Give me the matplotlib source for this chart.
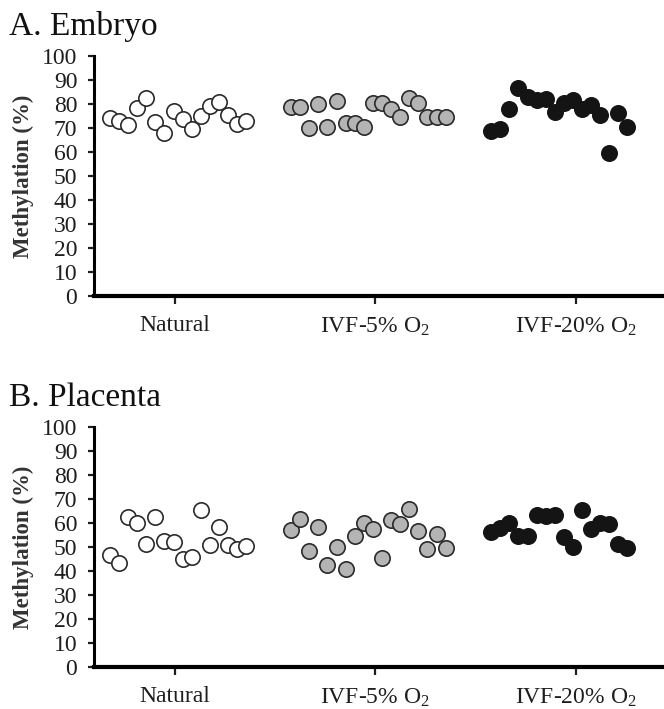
import matplotlib
matplotlib.use('Agg')
import matplotlib.pyplot as plt
import numpy as np

plt.rcParams['font.family'] = ['Liberation Serif', 'DejaVu Serif']
plt.rcParams['mathtext.default'] = 'regular'

# group labels
groups = ['Natural', 'IVF-5% O$_2$', 'IVF-20% O$_2$']

# A. Embryo, % methylation per sample
embryo_natural = [74.3, 72.9, 71.3, 78.2, 82.6, 72.4, 68.0, 77.2, 73.8, 69.6, 75.0, 79.2, 81.0, 75.4, 71.7, 72.9]
embryo_ivf5 = [78.6, 78.6, 69.9, 80.0, 70.5, 81.4, 72.2, 72.2, 70.3, 80.5, 80.3, 77.8, 74.5, 82.6, 80.3, 74.5, 74.7, 74.5]
embryo_ivf20 = [68.9, 69.5, 77.8, 86.5, 83.0, 81.7, 82.0, 76.8, 80.3, 81.7, 77.8, 79.6, 75.4, 59.5, 76.1, 70.3]

# B. Placenta
placenta_natural = [46.7, 43.2, 62.4, 59.9, 51.1, 62.4, 52.5, 52.2, 44.9, 46.0, 65.4, 50.8, 58.5, 50.8, 49.0, 50.4]
placenta_ivf5 = [57.1, 61.5, 48.5, 58.5, 42.5, 50.1, 40.7, 54.6, 59.9, 57.5, 45.3, 61.3, 59.6, 65.7, 56.8, 49.0, 55.3, 49.4]
placenta_ivf20 = [56.4, 57.8, 60.1, 54.6, 54.6, 63.3, 62.9, 63.3, 54.0, 50.1, 65.4, 57.4, 60.1, 59.6, 51.1, 49.7]

yticks = list(range(0, 101, 10))

# dot styles per group: face, edge
faces = ['white', '#b4b4b4', '#141414']
edges = ['#2a2a2a', '#2a2a2a', '#141414']
centre_shift = [0.017, -0.034, -0.082]  # dot clouds sit a bit off the ticks
step = 0.0453


def draw_panel(ax, series, title, title_y):
    for k, vals in enumerate(series):
        n = len(vals)
        xs = (k + 1) + centre_shift[k] + (np.arange(n) - (n - 1) / 2) * step
        ax.scatter(xs, vals, s=122, facecolor=faces[k], edgecolor=edges[k],
                   linewidth=1.2, zorder=3, clip_on=False)
    ax.set_xlim(0.598, 3.44)
    ax.set_ylim(0, 100)
    ax.set_yticks(yticks)
    ax.set_xticks([1, 2, 3])
    ax.set_xticklabels(groups)
    for s in ['top', 'right']:
        ax.spines[s].set_visible(False)
    ax.spines['left'].set_linewidth(2.2)
    ax.spines['bottom'].set_linewidth(3.0)
    ax.tick_params(axis='y', length=4, width=1.6, pad=8, labelsize=17, colors='#1e1e1e')
    ax.tick_params(axis='x', length=6, width=1.6, pad=8, labelsize=17, colors='#1e1e1e')
    ax.set_ylabel('Methylation (%)', fontsize=16.5, fontweight='bold', color='#333333')
    ax.yaxis.set_label_coords(-0.105, 0.5)
    fig.text(0.0136, title_y, title, fontsize=24, va='baseline', ha='left', color='#111111')


fig = plt.figure(figsize=(6.64, 7.09), dpi=100)
ax1 = fig.add_axes([0.1416, 0.5825, 0.8584, 0.3385])
ax2 = fig.add_axes([0.1416, 0.0592, 0.8584, 0.3385])

draw_panel(ax1, [embryo_natural, embryo_ivf5, embryo_ivf20], 'A. Embryo', 0.9506)
draw_panel(ax2, [placenta_natural, placenta_ivf5, placenta_ivf20], 'B. Placenta', 0.4274)

fig.savefig('out.png', dpi=100)
